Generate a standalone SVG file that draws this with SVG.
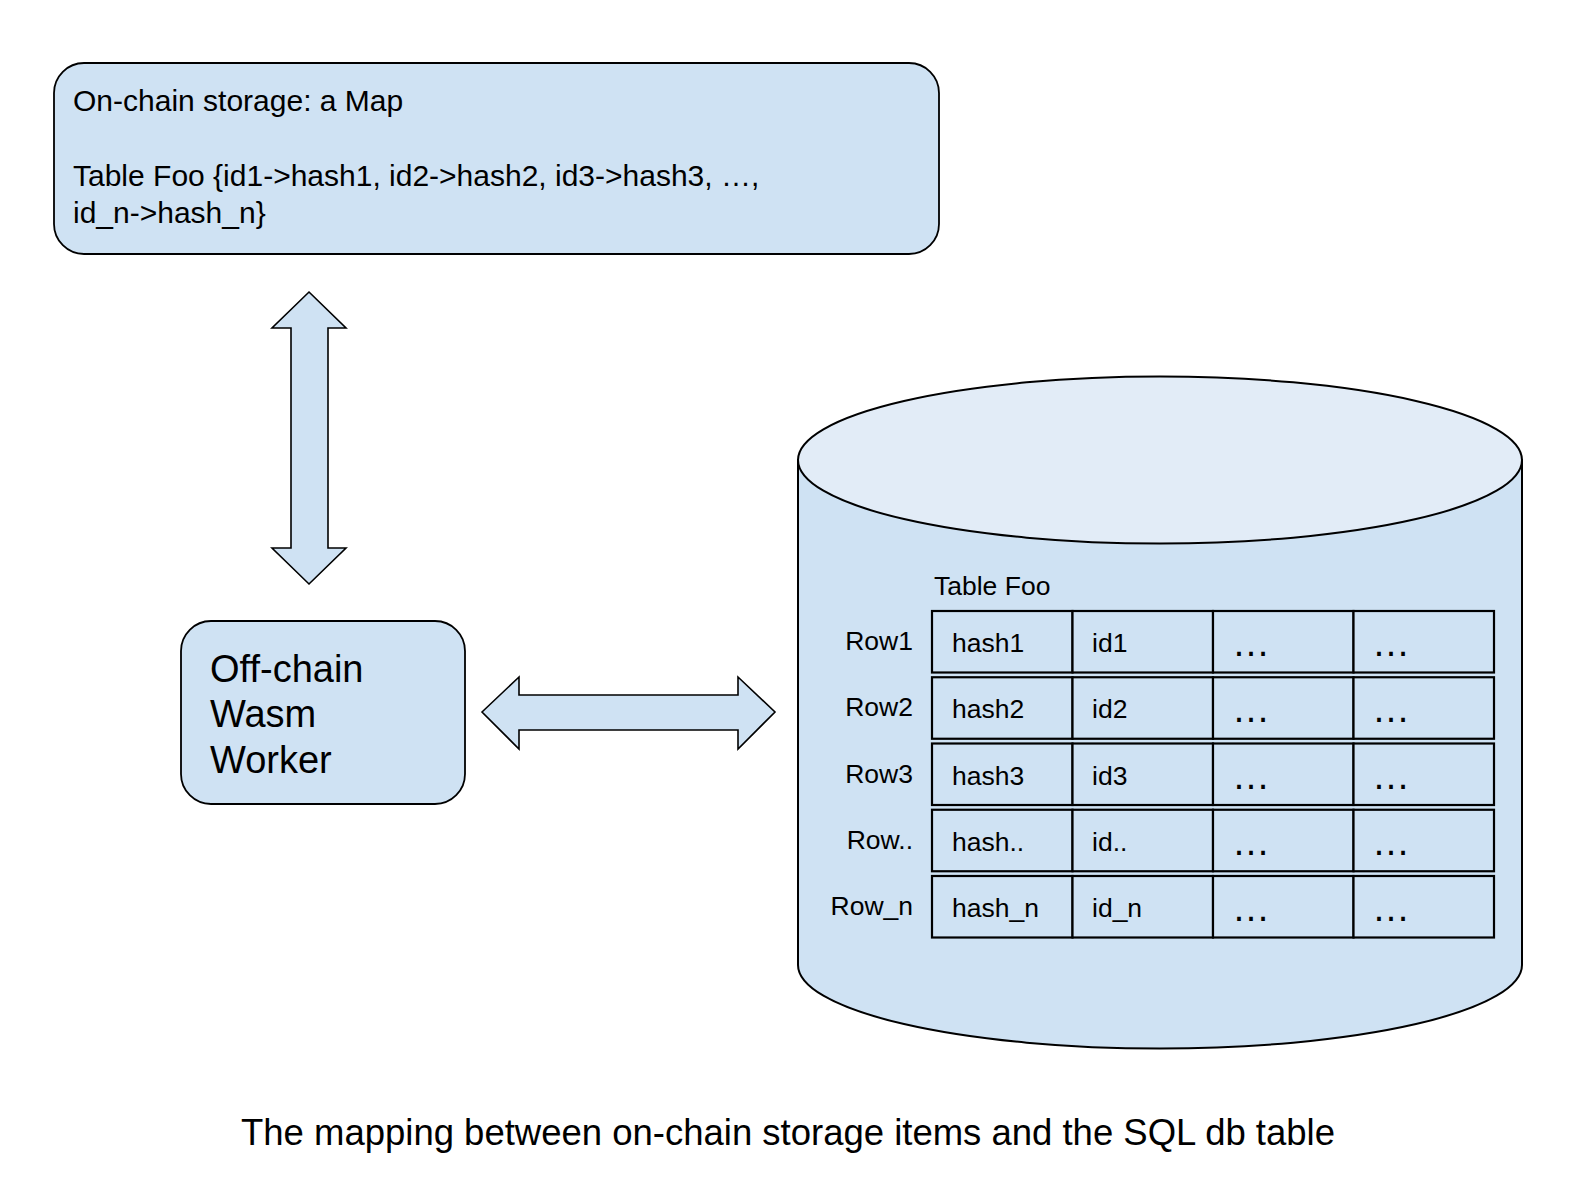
<svg xmlns="http://www.w3.org/2000/svg" width="1588" height="1196" viewBox="0 0 1588 1196">
<style>
.t{font-family:"Liberation Sans",Arial,sans-serif;fill:#000}
.box{fill:#cfe2f3;stroke:#000;stroke-width:1.8}
.arr{fill:#cfe2f3;stroke:#000;stroke-width:1.6;stroke-linejoin:miter}
.cell{fill:#cfe2f3;stroke:#000;stroke-width:2.2}
.ct{font-family:"Liberation Sans",Arial,sans-serif;font-size:26.5px;fill:#000}
.el{font-family:"Liberation Sans",Arial,sans-serif;font-size:38px;fill:#000}
</style>
<rect width="1588" height="1196" fill="#fff"/>
<g id="onchain">
<rect class="box" x="54" y="63" width="885" height="191" rx="30" ry="30"/>
<text class="t" font-size="30" x="73" y="111">On-chain storage: a Map</text>
<text class="t" font-size="30" x="73" y="186">Table Foo {id1-&gt;hash1, id2-&gt;hash2, id3-&gt;hash3, …,</text>
<text class="t" font-size="30" x="73" y="223">id_n-&gt;hash_n}</text>
</g>
<g id="worker">
<rect class="box" x="181" y="621" width="284" height="183" rx="30" ry="30"/>
<text class="t" font-size="38" x="210" y="682">Off-chain</text>
<text class="t" font-size="38" x="210" y="727">Wasm</text>
<text class="t" font-size="38" x="210" y="773">Worker</text>
</g>
<g id="connectors">
<polygon class="arr" points="309,292 346,328 328,328 328,548 346,548 309,584 272,548 291,548 291,328 272,328"/>
<polygon class="arr" points="482,712 519,677 519,695 738,695 738,677 775,712 738,749 738,730 519,730 519,749"/>
</g>
<g id="database">
<path d="M798 460 L798 965 A362 83.5 0 0 0 1522 965 L1522 460 Z" fill="#cfe2f3" stroke="#000" stroke-width="2"/>
<ellipse cx="1160" cy="460" rx="362" ry="83.5" fill="#e2ecf7" stroke="#000" stroke-width="2"/>
<text class="ct" x="934" y="595">Table Foo</text>
<g id="table">
<g text-anchor="end">
<text class="ct" x="913" y="650">Row1</text>
<text class="ct" x="913" y="716">Row2</text>
<text class="ct" x="913" y="783">Row3</text>
<text class="ct" x="913" y="849">Row..</text>
<text class="ct" x="913" y="915">Row_n</text>
</g>
<g id="row1">
<rect class="cell" x="932" y="611" width="140.5" height="61.5"/>
<rect class="cell" x="1072.5" y="611" width="140.5" height="61.5"/>
<rect class="cell" x="1213" y="611" width="140.5" height="61.5"/>
<rect class="cell" x="1353.5" y="611" width="140.5" height="61.5"/>
<text class="ct" x="952" y="652">hash1</text>
<text class="ct" x="1092" y="652">id1</text>
<text class="el" x="1232" y="656">…</text>
<text class="el" x="1372" y="656">…</text>
</g>
<g id="row2">
<rect class="cell" x="932" y="677.25" width="140.5" height="61.5"/>
<rect class="cell" x="1072.5" y="677.25" width="140.5" height="61.5"/>
<rect class="cell" x="1213" y="677.25" width="140.5" height="61.5"/>
<rect class="cell" x="1353.5" y="677.25" width="140.5" height="61.5"/>
<text class="ct" x="952" y="718">hash2</text>
<text class="ct" x="1092" y="718">id2</text>
<text class="el" x="1232" y="722">…</text>
<text class="el" x="1372" y="722">…</text>
</g>
<g id="row3">
<rect class="cell" x="932" y="743.5" width="140.5" height="61.5"/>
<rect class="cell" x="1072.5" y="743.5" width="140.5" height="61.5"/>
<rect class="cell" x="1213" y="743.5" width="140.5" height="61.5"/>
<rect class="cell" x="1353.5" y="743.5" width="140.5" height="61.5"/>
<text class="ct" x="952" y="785">hash3</text>
<text class="ct" x="1092" y="785">id3</text>
<text class="el" x="1232" y="789">…</text>
<text class="el" x="1372" y="789">…</text>
</g>
<g id="row4">
<rect class="cell" x="932" y="809.75" width="140.5" height="61.5"/>
<rect class="cell" x="1072.5" y="809.75" width="140.5" height="61.5"/>
<rect class="cell" x="1213" y="809.75" width="140.5" height="61.5"/>
<rect class="cell" x="1353.5" y="809.75" width="140.5" height="61.5"/>
<text class="ct" x="952" y="851">hash..</text>
<text class="ct" x="1092" y="851">id..</text>
<text class="el" x="1232" y="855">…</text>
<text class="el" x="1372" y="855">…</text>
</g>
<g id="row5">
<rect class="cell" x="932" y="876" width="140.5" height="61.5"/>
<rect class="cell" x="1072.5" y="876" width="140.5" height="61.5"/>
<rect class="cell" x="1213" y="876" width="140.5" height="61.5"/>
<rect class="cell" x="1353.5" y="876" width="140.5" height="61.5"/>
<text class="ct" x="952" y="917">hash_n</text>
<text class="ct" x="1092" y="917">id_n</text>
<text class="el" x="1232" y="921">…</text>
<text class="el" x="1372" y="921">…</text>
</g>
</g>
</g>
<text class="t" font-size="37" x="241" y="1145" textLength="1094" lengthAdjust="spacingAndGlyphs">The mapping between on-chain storage items and the SQL db table</text>
</svg>
